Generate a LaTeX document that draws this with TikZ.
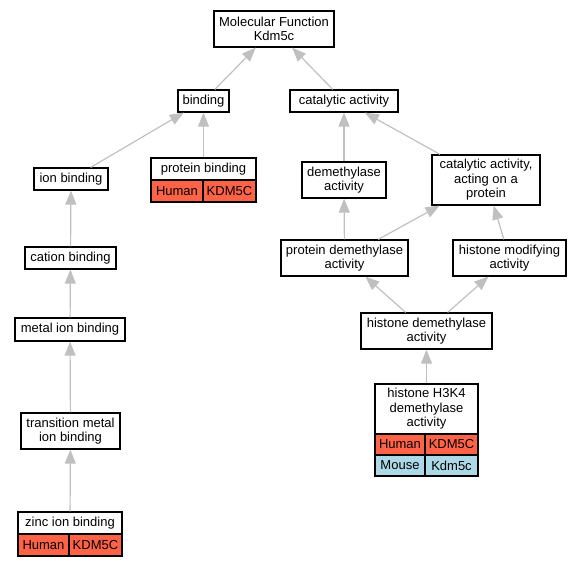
\documentclass[tikz,border=0pt]{standalone}
\usepackage{fontspec}
\setmainfont{Liberation Sans}
\usetikzlibrary{arrows.meta}
\definecolor{edgegray}{RGB}{192,192,192}
\definecolor{humanred}{RGB}{255,99,71}
\definecolor{mouseblue}{RGB}{173,216,230}
\begin{document}
\begin{tikzpicture}[x=1pt,y=-1pt,
  gobox/.style={draw=black, line width=1.2pt, fill=white, inner sep=0pt, align=center,
    font=\fontsize{13}{14.5}\selectfont},
  cell/.style={draw=black, line width=1.2pt, inner sep=0pt, align=center,
    font=\fontsize{13}{14.5}\selectfont},
  edge/.style={draw=edgegray, line width=1.2pt, -{Triangle[length=14pt,width=11pt,fill=edgegray]}}
]
\useasboundingbox (0,0) rectangle (581,568);
% nodes
\node[gobox, minimum width=120, minimum height=36] (mf) at (274,29) {Molecular Function\\Kdm5c};
\node[gobox, minimum width=51, minimum height=22] (bind) at (203.5,101) {binding};
\node[gobox, minimum width=108, minimum height=22] (cat) at (344,101) {catalytic activity};
\node[gobox, minimum width=74, minimum height=22] (ion) at (71,179) {ion binding};
\node[gobox, minimum width=105, minimum height=22] (pb) at (203.5,169) {protein binding};
\node[cell, fill=humanred, minimum width=52, minimum height=22] (pbh) at (177,191) {Human};
\node[cell, fill=humanred, minimum width=53, minimum height=22] (pbk) at (229.5,191) {KDM5C};
\node[gobox, minimum width=84, minimum height=36] (dem) at (344,180) {demethylase\\activity};
\node[gobox, minimum width=108, minimum height=50] (cap) at (486,180) {catalytic activity,\\acting on a\\protein};
\node[gobox, minimum width=91, minimum height=22] (cation) at (70.5,258) {cation binding};
\node[gobox, minimum width=127, minimum height=36] (pdem) at (344.5,258) {protein demethylase\\activity};
\node[gobox, minimum width=113, minimum height=36] (hmod) at (509.5,258) {histone modifying\\activity};
\node[gobox, minimum width=110, minimum height=23] (metal) at (70,329.5) {metal ion binding};
\node[gobox, minimum width=131, minimum height=36] (hdem) at (426.5,331) {histone demethylase\\activity};
\node[gobox, minimum width=99, minimum height=36] (trans) at (70.5,431) {transition metal\\ion binding};
\node[gobox, minimum width=103, minimum height=50] (h3k4) at (426.5,409) {histone H3K4\\demethylase\\activity};
\node[cell, fill=humanred, minimum width=50, minimum height=21] (h3h) at (400,444.5) {Human};
\node[cell, fill=humanred, minimum width=53, minimum height=21] (h3k) at (451.5,444.5) {KDM5C};
\node[cell, fill=mouseblue, minimum width=50, minimum height=21] (h3m) at (400,465.5) {Mouse};
\node[cell, fill=mouseblue, minimum width=53, minimum height=21] (h3mk) at (451.5,465.5) {Kdm5c};
\node[gobox, minimum width=104, minimum height=22] (zinc) at (70,523) {zinc ion binding};
\node[cell, fill=humanred, minimum width=51, minimum height=22] (zh) at (43.5,545) {Human};
\node[cell, fill=humanred, minimum width=53, minimum height=22] (zk) at (95.5,545) {KDM5C};
% edges
\draw[edge] (bind) -- (mf);
\draw[edge] (cat) -- (mf);
\draw[edge] (ion) -- (bind);
\draw[edge] (pb) -- (bind);
\draw[edge] (dem) -- (cat);
\draw[edge] (cap) -- (cat);
\draw[edge] (cation) -- (ion);
\draw[edge] (metal) -- (cation);
\draw[edge] (trans) -- (metal);
\draw[edge] (zinc) -- (trans);
\draw[edge] (pdem) -- (dem);
\draw[edge] (pdem) -- (cap);
\draw[edge] (hmod) -- (cap);
\draw[edge] (hdem) -- (pdem);
\draw[edge] (hdem) -- (hmod);
\draw[edge] (h3k4) -- (hdem);
\end{tikzpicture}
\end{document}
